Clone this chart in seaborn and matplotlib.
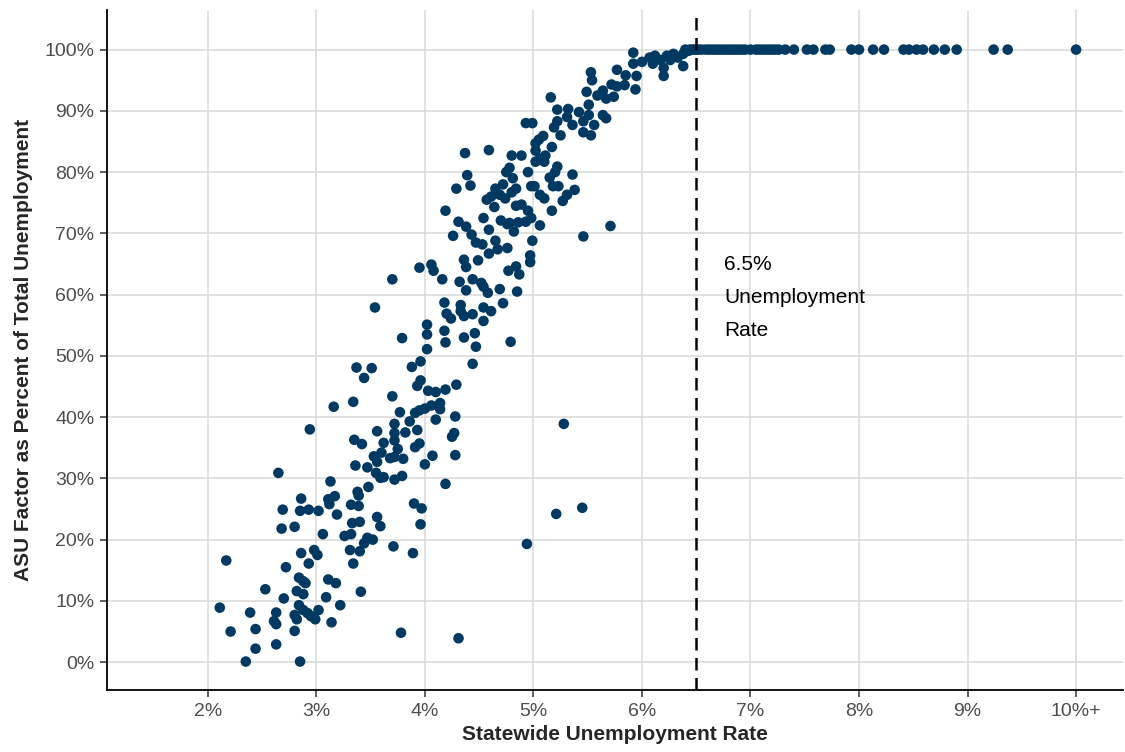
import matplotlib
matplotlib.use("Agg")
import matplotlib.pyplot as plt
from matplotlib import font_manager
import seaborn as sns
import pandas as pd

# Statewide unemployment rate (%) for each state-period observation
unemp_rate = [
    2.35, 2.85, 2.44, 2.63, 2.21, 2.44, 2.80, 3.78, 4.31, 2.11, 2.39, 2.63, 2.61, 2.63,
    2.80, 2.82, 2.84, 2.88, 2.92, 2.95, 2.99, 3.02, 3.14, 3.22, 3.09, 2.70, 2.53, 2.82,
    2.88, 2.90, 2.84, 2.88, 3.11, 3.18, 3.41, 2.72, 2.93, 2.86, 2.98, 3.01, 2.17, 3.34,
    3.31, 3.40, 3.44, 3.47, 3.52, 3.71, 3.89, 4.94, 3.06, 3.26, 3.32, 2.68, 2.80, 3.33,
    3.40, 3.56, 3.59, 3.96, 5.21, 5.45, 2.69, 2.85, 2.93, 3.02, 2.86, 3.11, 3.12, 3.17,
    3.19, 3.32, 3.39, 3.38, 3.39, 3.48, 3.13, 3.90, 3.97, 4.19, 2.65, 3.36, 3.47, 3.55,
    3.59, 3.62, 3.72, 3.79, 3.53, 3.56, 3.60, 3.62, 3.68, 3.72, 3.80, 3.75, 4.00, 4.07,
    4.28, 3.35, 3.42, 3.56, 3.72, 3.72, 3.82, 3.72, 3.91, 3.95, 3.93, 3.86, 2.94, 3.16,
    3.34, 3.70, 3.77, 3.91, 3.95, 4.00, 4.06, 4.14, 4.14, 4.10, 4.25, 4.27, 4.28, 5.28,
    3.93, 3.96, 4.03, 4.10, 4.19, 4.29, 3.37, 3.44, 3.51, 3.88, 3.96, 4.44, 4.02, 3.79,
    4.02, 4.02, 4.18, 4.19, 4.36, 4.46, 4.47, 4.79, 3.54, 4.18, 4.20, 4.24, 4.33, 4.33,
    4.36, 4.44, 4.54, 4.54, 4.61, 4.72, 3.70, 3.95, 4.06, 4.08, 4.16, 4.32, 4.36, 4.38,
    4.38, 4.44, 4.49, 4.52, 4.54, 4.58, 4.69, 4.77, 4.84, 4.87, 4.85, 4.97, 4.97, 4.19,
    4.26, 4.31, 4.38, 4.43, 4.47, 4.54, 4.53, 4.59, 4.59, 4.65, 4.67, 4.76, 4.70, 4.76,
    4.82, 4.78, 4.86, 4.93, 4.99, 5.06, 4.98, 4.95, 4.89, 4.84, 5.17, 5.27, 5.31, 5.38,
    5.46, 5.71, 4.57, 4.61, 4.64, 4.65, 4.69, 4.72, 4.75, 4.78, 4.81, 4.84, 4.80, 4.74,
    4.95, 4.98, 5.06, 5.10, 5.15, 5.20, 5.22, 5.18, 5.23, 5.36, 5.10, 5.06, 5.01, 4.29,
    4.39, 4.42, 4.37, 4.59, 4.80, 4.89, 5.02, 5.02, 5.11, 5.17, 5.02, 5.05, 5.09, 4.93,
    4.99, 5.16, 5.19, 5.22, 5.25, 5.22, 5.32, 5.31, 5.36, 5.42, 5.46, 5.46, 5.51, 5.51,
    5.53, 5.56, 5.49, 5.53, 5.54, 5.64, 5.67, 5.59, 5.64, 5.67, 5.72, 5.74, 5.77, 5.77,
    5.84, 5.85, 5.92, 5.92, 5.94, 5.95, 6.00, 6.07, 6.10, 6.12, 6.17, 6.20, 6.20, 6.23,
    6.26, 6.29, 6.33, 6.38, 6.38, 6.43, 6.48,
    # rates at or above 6.5% (capped at 10%+)
    6.40, 6.44, 6.46, 6.50, 6.52, 6.55, 6.59, 6.62, 6.65, 6.68, 6.71, 6.74, 6.77, 6.80,
    6.83, 6.86, 6.89, 6.92, 6.95, 7.00, 7.05, 7.08, 7.11, 7.14, 7.17, 7.20, 7.23, 7.26,
    7.32, 7.40, 7.52, 7.58, 7.69, 7.73, 7.93, 8.00, 8.13, 8.23, 8.41, 8.46, 8.53, 8.59,
    8.69, 8.79, 8.90, 9.24, 9.37, 10.00,
]

# ASU factor as a percent of total unemployment (%)
asu_share = [
    0.1, 0.1, 2.2, 2.9, 5.0, 5.4, 5.1, 4.8, 3.9, 8.9, 8.1, 8.1, 6.7, 6.2,
    7.7, 7.0, 9.3, 8.5, 8.0, 7.5, 7.0, 8.5, 6.5, 9.3, 10.6, 10.4, 11.9, 11.6,
    11.1, 12.9, 13.8, 13.2, 13.5, 12.9, 11.5, 15.5, 16.1, 17.8, 18.3, 17.5, 16.6, 16.1,
    18.3, 18.1, 19.4, 20.3, 20.0, 18.9, 17.8, 19.3, 20.9, 20.6, 20.9, 21.8, 22.1, 22.7,
    22.9, 23.7, 22.2, 22.5, 24.2, 25.2, 24.9, 24.7, 24.9, 24.7, 26.7, 26.6, 25.8, 27.1,
    24.1, 25.7, 25.5, 27.8, 27.2, 28.6, 29.5, 25.9, 25.1, 29.1, 30.9, 32.1, 31.8, 30.9,
    30.1, 30.2, 29.8, 30.4, 33.6, 32.7, 34.2, 35.8, 33.3, 33.5, 33.2, 34.8, 32.3, 33.7,
    33.8, 36.3, 35.6, 37.7, 36.2, 37.4, 37.5, 38.9, 35.1, 35.7, 37.9, 39.3, 38.0, 41.7,
    42.5, 43.4, 40.8, 40.7, 41.1, 41.4, 41.9, 42.3, 41.3, 39.6, 36.8, 37.4, 40.1, 38.9,
    45.1, 46.0, 44.3, 44.1, 44.5, 45.3, 48.1, 46.4, 48.0, 48.2, 49.1, 48.7, 51.1, 52.9,
    53.5, 55.1, 54.1, 52.2, 53.0, 53.7, 51.5, 52.3, 57.9, 58.7, 56.9, 56.1, 58.3, 57.3,
    56.5, 56.8, 57.9, 55.7, 57.3, 58.6, 62.5, 64.4, 64.9, 63.9, 62.5, 62.1, 65.7, 64.5,
    60.7, 62.5, 65.6, 61.9, 61.3, 60.3, 60.9, 63.9, 64.6, 63.3, 60.5, 66.4, 65.3, 73.7,
    69.6, 71.9, 71.1, 69.8, 68.5, 72.5, 68.2, 70.6, 66.7, 68.8, 67.4, 67.6, 72.1, 71.5,
    70.3, 71.7, 71.8, 71.9, 68.8, 71.3, 72.5, 73.7, 74.7, 74.5, 73.7, 75.3, 76.3, 77.1,
    69.5, 71.2, 75.5, 76.0, 74.3, 77.3, 76.3, 78.0, 80.0, 80.7, 79.0, 77.3, 76.7, 75.7,
    80.0, 77.7, 76.3, 75.7, 79.1, 80.0, 80.9, 77.7, 77.7, 79.6, 81.7, 82.2, 77.7, 77.3,
    79.5, 77.8, 83.1, 83.6, 82.7, 82.7, 81.7, 83.5, 82.7, 84.1, 84.7, 85.3, 85.9, 88.0,
    88.0, 92.2, 87.3, 88.3, 86.0, 90.2, 90.3, 89.0, 87.7, 89.8, 88.3, 86.5, 91.0, 89.3,
    86.0, 87.7, 93.1, 96.3, 95.0, 89.3, 88.8, 92.5, 93.3, 92.0, 94.3, 92.3, 96.7, 94.0,
    94.2, 95.8, 99.5, 97.7, 93.5, 95.7, 98.0, 98.7, 97.7, 99.0, 98.3, 95.7, 97.0, 99.0,
    98.3, 99.3, 98.7, 97.3, 99.3, 99.8, 100.0,
    100.0, 100.0, 100.0, 100.0, 100.0, 100.0, 100.0, 100.0, 100.0, 100.0, 100.0, 100.0, 100.0, 100.0,
    100.0, 100.0, 100.0, 100.0, 100.0, 100.0, 100.0, 100.0, 100.0, 100.0, 100.0, 100.0, 100.0, 100.0,
    100.0, 100.0, 100.0, 100.0, 100.0, 100.0, 100.0, 100.0, 100.0, 100.0, 100.0, 100.0, 100.0, 100.0,
    100.0, 100.0, 100.0, 100.0, 100.0, 100.0,
]

x_ticks = [2, 3, 4, 5, 6, 7, 8, 9, 10]
x_tick_labels = ["2%", "3%", "4%", "5%", "6%", "7%", "8%", "9%", "10%+"]
y_ticks = [0, 10, 20, 30, 40, 50, 60, 70, 80, 90, 100]
y_tick_labels = [f"{v}%" for v in y_ticks]

threshold = 6.5
threshold_label = "6.5%\nUnemployment\nRate"

df = pd.DataFrame({"rate": unemp_rate, "asu": asu_share})

sns.set_style("white")
available = {f.name for f in font_manager.fontManager.ttflist}
body_font = "Liberation Sans" if "Liberation Sans" in available else "DejaVu Sans"
title_font = "Liberation Sans Narrow" if "Liberation Sans Narrow" in available else body_font
plt.rcParams["font.family"] = [body_font, "DejaVu Sans"]

fig = plt.figure(figsize=(11.25, 7.52), dpi=100)
ax = fig.add_axes([0.095, 0.082, 0.903, 0.905])

ax.set_axisbelow(True)
ax.grid(True, color="#D9D9D9", linewidth=1.1)

sns.scatterplot(data=df, x="rate", y="asu", ax=ax, color="#003A63",
                s=58, linewidth=0, edgecolor="none", zorder=3)

ax.axvline(threshold, color="black", linestyle=(0, (5, 3)), linewidth=1.8, zorder=4)
ax.text(6.76, 66.5, threshold_label, fontsize=15, color="black",
        va="top", ha="left", linespacing=1.95)

ax.set_xlim(1.07, 10.43)
ax.set_ylim(-4.6, 106.5)
ax.set_xticks(x_ticks)
ax.set_xticklabels(x_tick_labels)
ax.set_yticks(y_ticks)
ax.set_yticklabels(y_tick_labels)

ax.tick_params(axis="both", which="major", direction="out", length=5, width=1.1,
               color="#333333", labelcolor="#4D4D4D", labelsize=14, pad=4,
               bottom=True, left=True)

for side in ["top", "right"]:
    ax.spines[side].set_visible(False)
for side in ["left", "bottom"]:
    ax.spines[side].set_color("black")
    ax.spines[side].set_linewidth(1.3)

ax.set_xlabel("Statewide Unemployment Rate", fontsize=15, fontweight="bold",
              family=[title_font, "DejaVu Sans"], labelpad=4)
ax.set_ylabel("ASU Factor as Percent of Total Unemployment", fontsize=15,
              fontweight="bold", family=[title_font, "DejaVu Sans"], labelpad=8)

fig.savefig("out.png", dpi=100)
